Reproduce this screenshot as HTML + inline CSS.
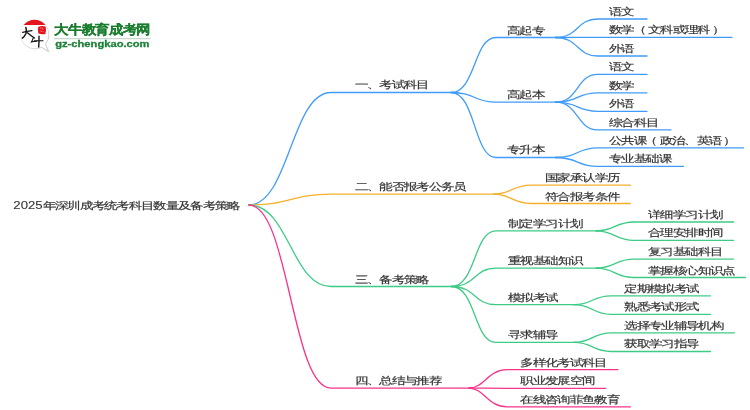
<!DOCTYPE html>
<html><head><meta charset="utf-8"><style>
html,body{margin:0;padding:0;background:#fff;width:750px;height:410px;overflow:hidden}
#w{position:absolute;left:0;top:0;width:750px;height:410px}
svg{position:absolute;left:0;top:0;will-change:transform}
text{font-family:"Liberation Sans",sans-serif;font-size:12px;fill:#333;stroke:#333;stroke-width:0.22px}
.logo1{font-size:14px;font-weight:bold;fill:#1a7d2e;stroke:#1a7d2e;stroke-width:0.2px}
.logo2{font-size:11.3px;font-weight:bold;fill:#1c8037;stroke:#1c8037;stroke-width:0.35px}
</style></head><body><div id="w">
<svg width="750" height="410" viewBox="0 0 750 410">
<g fill="none" stroke-width="1.3" stroke-linecap="round">
<path d="M248.80 205C289.08 205 291.54 92.5 331 92.5H458" stroke="#409cfa"/>
<path d="M248.80 205C289.08 205 291.54 194.2 331 194.2H497" stroke="#f5b02a"/>
<path d="M248.80 205C289.08 205 291.54 286.5 331 286.5H458.4" stroke="#3ecb86"/>
<path d="M248.80 205C289.08 205 291.54 388.1 331 388.1H471.8" stroke="#f7348a"/>
<path d="M451.00 92.5C475.75 92.5 473.50 37.5 496 37.5H562.5" stroke="#409cfa"/>
<path d="M451.00 92.5C475.75 92.5 473.50 102.2 496 102.2H562.5" stroke="#409cfa"/>
<path d="M451.00 92.5C475.75 92.5 473.50 157.5 496 157.5H562.5" stroke="#409cfa"/>
<path d="M555.50 37.5C578.60 37.5 576.50 19.0 597.5 19.0H647" stroke="#409cfa"/>
<path d="M555.50 37.5C578.60 37.5 576.50 37.3 597.5 37.3H732" stroke="#409cfa"/>
<path d="M555.50 37.5C578.60 37.5 576.50 56.0 597.5 56.0H647" stroke="#409cfa"/>
<path d="M555.50 102.2C578.60 102.2 576.50 74.4 597.5 74.4H647" stroke="#409cfa"/>
<path d="M555.50 102.2C578.60 102.2 576.50 92.8 597.5 92.8H647" stroke="#409cfa"/>
<path d="M555.50 102.2C578.60 102.2 576.50 111.3 597.5 111.3H647" stroke="#409cfa"/>
<path d="M555.50 102.2C578.60 102.2 576.50 129.8 597.5 129.8H671" stroke="#409cfa"/>
<path d="M555.50 157.5C578.60 157.5 576.50 147.8 597.5 147.8H743.6" stroke="#409cfa"/>
<path d="M555.50 157.5C578.60 157.5 576.50 166.3 597.5 166.3H683.6" stroke="#409cfa"/>
<path d="M494.00 194.2C510.65 194.2 512.50 185.2 531 185.2H630.5" stroke="#f5b02a"/>
<path d="M494.00 194.2C510.65 194.2 512.50 203.5 531 203.5H630.5" stroke="#f5b02a"/>
<path d="M451.40 286.5C475.93 286.5 473.70 230.9 496 230.9H600" stroke="#3ecb86"/>
<path d="M451.40 286.5C475.93 286.5 473.70 268.1 496 268.1H600" stroke="#3ecb86"/>
<path d="M451.40 286.5C475.93 286.5 473.70 304.7 496 304.7H578" stroke="#3ecb86"/>
<path d="M451.40 286.5C475.93 286.5 473.70 342.4 496 342.4H578" stroke="#3ecb86"/>
<path d="M596.00 230.9C615.00 230.9 615.00 222 634 222H733.5" stroke="#3ecb86"/>
<path d="M596.00 230.9C615.00 230.9 615.00 240.4 634 240.4H733.5" stroke="#3ecb86"/>
<path d="M596.00 268.1C615.00 268.1 615.00 259.1 634 259.1H733.5" stroke="#3ecb86"/>
<path d="M596.00 268.1C615.00 268.1 615.00 277.5 634 277.5H745.5" stroke="#3ecb86"/>
<path d="M574.00 304.7C592.50 304.7 592.50 295.8 611 295.8H710.5" stroke="#3ecb86"/>
<path d="M574.00 304.7C592.50 304.7 592.50 314.3 611 314.3H710.5" stroke="#3ecb86"/>
<path d="M574.00 342.4C592.50 342.4 592.50 332.8 611 332.8H734.5" stroke="#3ecb86"/>
<path d="M574.00 342.4C592.50 342.4 592.50 351.5 611 351.5H710.5" stroke="#3ecb86"/>
<path d="M468.80 388.1C484.08 388.1 487.90 369.7 507 369.7H617.8" stroke="#f7348a"/>
<path d="M468.80 388.1C484.08 388.1 487.90 388.3 507 388.3H605.7" stroke="#f7348a"/>
<path d="M468.80 388.1C484.08 388.1 487.90 406.8 507 406.8H630.5" stroke="#f7348a"/>
</g>
<g transform="translate(0 0.2)">
<text transform="translate(354.60 88.15) scale(1.08 0.8)" x="0.00 11.44 22.89 34.33 45.78 57.22">一、考试科目</text>
<text transform="translate(354.60 189.65) scale(1.08 0.8)" x="0.00 11.44 22.89 34.33 45.78 57.22 68.67 80.11 91.56">二、能否报考公务员</text>
<text transform="translate(354.60 282.35) scale(1.08 0.8)" x="0.00 11.44 22.89 34.33 45.78 57.22">三、备考策略</text>
<text transform="translate(354.60 383.75) scale(1.08 0.8)" x="0.00 11.44 22.89 34.33 45.78 57.22 68.67">四、总结与推荐</text>
<text transform="translate(507.10 33.35) scale(1.08 0.8)" x="0.00 11.44 22.89">高起专</text>
<text transform="translate(507.10 98.05) scale(1.08 0.8)" x="0.00 11.44 22.89">高起本</text>
<text transform="translate(507.10 152.95) scale(1.08 0.8)" x="0.00 11.44 22.89">专升本</text>
<text transform="translate(609.10 14.55) scale(1.08 0.8)" x="0.00 11.44">语文</text>
<text transform="translate(609.10 33.15) scale(1.08 0.8)" x="0.00 11.44 22.15 35.91 47.35 58.80 70.24 81.69 95.07">数学（文科或理科）</text>
<text transform="translate(609.10 51.65) scale(1.08 0.8)" x="0.00 11.44">外语</text>
<text transform="translate(609.10 70.15) scale(1.08 0.8)" x="0.00 11.44">语文</text>
<text transform="translate(609.10 88.65) scale(1.08 0.8)" x="0.00 11.44">数学</text>
<text transform="translate(609.10 107.15) scale(1.08 0.8)" x="0.00 11.44">外语</text>
<text transform="translate(609.10 125.65) scale(1.08 0.8)" x="0.00 11.44 22.89 34.33">综合科目</text>
<text transform="translate(609.10 143.65) scale(1.08 0.8)" x="0.00 11.44 22.89 32.48 46.70 58.15 69.59 81.04 92.48 105.04">公共课（政治、英语）</text>
<text transform="translate(609.10 162.05) scale(1.08 0.8)" x="0.00 11.44 22.89 34.33 45.78">专业基础课</text>
<text transform="translate(545.10 181.05) scale(1.08 0.8)" x="0.00 11.44 22.89 34.33 45.78 57.22">国家承认学历</text>
<text transform="translate(545.10 199.45) scale(1.08 0.8)" x="0.00 11.44 22.89 34.33 45.78 57.22">符合报考条件</text>
<text transform="translate(508.10 226.75) scale(1.08 0.8)" x="0.00 11.44 22.89 34.33 45.78 57.22">制定学习计划</text>
<text transform="translate(508.10 263.95) scale(1.08 0.8)" x="0.00 11.44 22.89 34.33 45.78 57.22">重视基础知识</text>
<text transform="translate(508.10 300.55) scale(1.08 0.8)" x="0.00 11.44 22.89 34.33">模拟考试</text>
<text transform="translate(508.10 338.25) scale(1.08 0.8)" x="0.00 11.44 22.89 34.33">寻求辅导</text>
<text transform="translate(648.10 217.85) scale(1.08 0.8)" x="0.00 11.44 22.89 34.33 45.78 57.22">详细学习计划</text>
<text transform="translate(648.10 236.25) scale(1.08 0.8)" x="0.00 11.44 22.89 34.33 45.78 57.22">合理安排时间</text>
<text transform="translate(648.10 254.95) scale(1.08 0.8)" x="0.00 11.44 22.89 34.33 45.78 57.22">复习基础科目</text>
<text transform="translate(648.10 273.55) scale(1.08 0.8)" x="0.00 11.44 22.89 34.33 45.78 57.22 68.67">掌握核心知识点</text>
<text transform="translate(624.30 291.65) scale(1.08 0.8)" x="0.00 11.44 22.89 34.33 45.78 57.22">定期模拟考试</text>
<text transform="translate(624.30 310.15) scale(1.08 0.8)" x="0.00 11.44 22.89 34.33 45.78 57.22">熟悉考试形式</text>
<text transform="translate(624.30 328.65) scale(1.08 0.8)" x="0.00 11.44 22.89 34.33 45.78 57.22 68.67 80.11">选择专业辅导机构</text>
<text transform="translate(624.30 347.15) scale(1.08 0.8)" x="0.00 11.44 22.89 34.33 45.78 57.22">获取学习指导</text>
<text transform="translate(520.30 365.55) scale(1.08 0.8)" x="0.00 11.44 22.89 34.33 45.78 57.22 68.67">多样化考试科目</text>
<text transform="translate(520.30 384.15) scale(1.08 0.8)" x="0.00 11.44 22.89 34.33 45.78 57.22">职业发展空间</text>
<text transform="translate(520.30 402.75) scale(1.08 0.8)" x="0.00 11.44 22.89 34.33 45.78 57.22 68.67 80.11">在线咨询菲鱼教育</text>
<text style="stroke-width:0.1px" transform="translate(13.3 208.7) scale(1.1 0.85)">2025</text><text transform="translate(42.6 208.8) scale(1.08 0.8)" x="0.00 11.40 22.80 34.19 45.59 56.99 68.39 79.79 91.19 102.58 113.98 125.38 136.78 148.18 159.57 170.97">年深圳成考统考科目数量及备考策略</text>
</g>
<defs><linearGradient id="bg" x1="0" y1="0" x2="1" y2="1"><stop offset="0" stop-color="#f4f4f4"/><stop offset="0.5" stop-color="#dedede"/><stop offset="1" stop-color="#c4c4c4"/></linearGradient></defs>
<g>
<path d="M39 20.6 A14.3 14.3 0 0 1 48.8 33.5 A14.3 14.3 0 0 1 45.6 44.2 L48.6 51.6 L41.5 47.2 A14.3 14.3 0 0 1 21.2 38.5 A14.3 14.3 0 0 1 23.5 25.5" fill="#fff" stroke="url(#bg)" stroke-width="1"/>
<path d="M23.6 24.9 A14.3 14.3 0 0 1 45.5 24.9 Z" fill="#e3161f"/>
<path d="M38.3 26.8 Q42 25.4 45.6 26.6 Q46.6 30.5 45.4 33.9 Q41.5 34.6 38.4 33.4 Q37.6 30 38.3 26.8Z" fill="#e3121c"/>
<path d="M40 28 l1.5 0.3 M42.5 27.6 l0.6 2 M40.3 31 l2 0.4 M43.4 31.5 l0.8 0.9" stroke="#f6b0b0" stroke-width="0.7" fill="none"/>
<g fill="none" stroke="#151515" stroke-linecap="round">
<path d="M22.6 32.3 Q27 31.2 32 30.6" stroke-width="1.2"/>
<path d="M25.9 27.4 Q26.8 30 26 33.5 Q24.5 36.6 22.4 38.1" stroke-width="1.5"/>
<path d="M27.4 32.8 Q31 35.8 34.4 38" stroke-width="1.4"/>
<path d="M33.4 37.6 Q32.6 40 31.4 42 Q34 41.5 36.6 41.3" stroke-width="1.1"/>
<path d="M34.2 40.9 Q38.5 40.6 43 40.7" stroke-width="1.1"/>
<path d="M39 36.2 Q39.1 42 38.7 47" stroke-width="1.4"/>
</g>
<text class="logo1" transform="translate(54.3 33.9) scale(1 0.9)">大牛教育成考网</text>
<rect x="54" y="38" width="96.5" height="1.3" fill="#cad9cd"/>
<text class="logo2" transform="translate(55.2 47.3) scale(0.99 0.8)">gz-chengkao.com</text>
</g>
</svg></div>
</body></html>
